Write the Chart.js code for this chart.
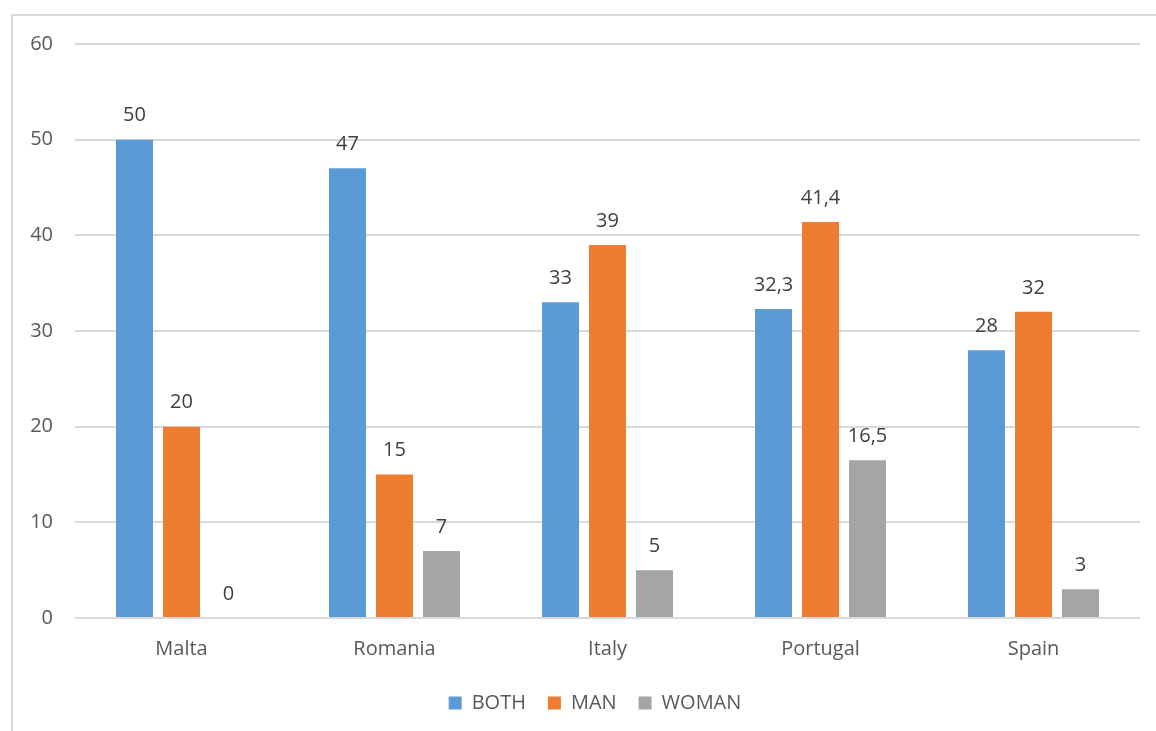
<!DOCTYPE html>
<html>
<head>
<meta charset="utf-8">
<script src="https://cdn.jsdelivr.net/npm/chart.js@4"></script>
<style>
  html, body { margin: 0; padding: 0; background: #fff; }
  #wrap { position: relative; width: 1156px; height: 731px; overflow: hidden; }
  #frame { position: absolute; left: 11px; top: 14px; width: 1200px; height: 800px; border: 2px solid #d9d9d9; box-sizing: border-box; }
  canvas { position: absolute; left: 0; top: 0; }
</style>
</head>
<body>
<div id="wrap">
  <div id="frame"></div>
  <canvas id="c" width="1156" height="731"></canvas>
</div>
<script>
const categories = ["Malta", "Romania", "Italy", "Portugal", "Spain"];
const bothValues = [50, 47, 33, 32.3, 28];
const manValues = [20, 15, 39, 41.4, 32];
const womanValues = [0, 7, 5, 16.5, 3];
const seriesNames = ["BOTH", "MAN", "WOMAN"];
const yTicks = [0, 10, 20, 30, 40, 50, 60];

const FONT = "'Open Sans', 'Liberation Sans', sans-serif";
const TEXT = "#595959";

const labelPlugin = {
  id: 'barLabels',
  afterLayout(chart) {
    if (chart.legend) {
      chart.legend.left += 25;
      chart.legend.right += 25;
    }
  },
  afterDatasetsDraw(chart) {
    const ctx = chart.ctx;
    ctx.save();
    ctx.font = "20px " + FONT;
    ctx.fillStyle = "#404040";
    ctx.textAlign = "center";
    ctx.textBaseline = "middle";
    chart.data.datasets.forEach((ds, di) => {
      const meta = chart.getDatasetMeta(di);
      meta.data.forEach((bar, i) => {
        const v = ds.data[i];
        ctx.fillText(String(v).replace('.', ','), bar.x, bar.y - 24);
      });
    });
    ctx.restore();
  }
};

new Chart(document.getElementById('c'), {
  type: 'bar',
  data: {
    labels: categories,
    datasets: [
      { label: seriesNames[0], data: bothValues, backgroundColor: '#5B9BD5' },
      { label: seriesNames[1], data: manValues, backgroundColor: '#ED7D31' },
      { label: seriesNames[2], data: womanValues, backgroundColor: '#A5A5A5' }
    ]
  },
  options: {
    responsive: false,
    animation: false,
    devicePixelRatio: 1,
    layout: { padding: { left: 0, right: 16, top: 44, bottom: 8 } },
    datasets: { bar: { categoryPercentage: 0.662, barPercentage: 0.787 } },
    plugins: {
      tooltip: { enabled: false },
      legend: {
        position: 'bottom',
        labels: {
          font: { family: FONT, size: 20 },
          color: TEXT,
          boxWidth: 13,
          boxHeight: 13,
          padding: 22
        }
      }
    },
    scales: {
      x: {
        grid: { display: false },
        border: { display: false },
        afterFit(scale) { scale.height = scale.height - 1; },
        ticks: { font: { family: FONT, size: 20 }, color: TEXT, padding: 11 }
      },
      y: {
        min: 0, max: 60,
        afterFit(scale) { scale.width = 75; },
        afterBuildTicks(scale) { scale.ticks = yTicks.map(v => ({ value: v })); },
        grid: { color: '#d9d9d9', lineWidth: 2, drawTicks: false },
        border: { display: false },
        ticks: { font: { family: FONT, size: 20 }, color: TEXT, padding: 22 }
      }
    }
  },
  plugins: [labelPlugin]
});
</script>
</body>
</html>
